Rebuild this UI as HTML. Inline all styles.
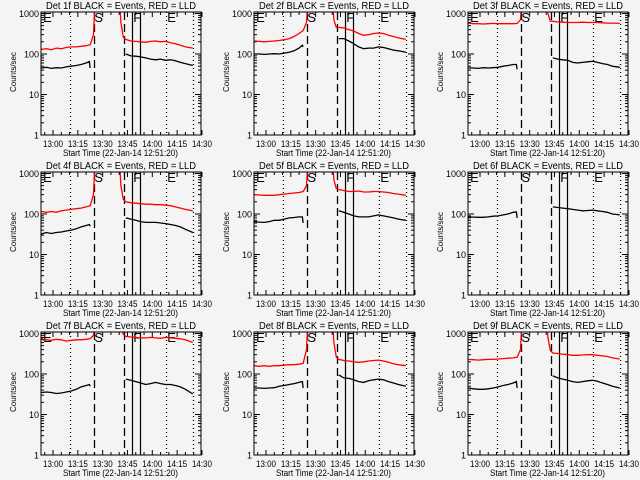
<!DOCTYPE html>
<html><head><meta charset="utf-8"><style>
html,body{margin:0;padding:0;background:#f4f4f4;}
svg{display:block;font-family:"Liberation Sans",sans-serif;}
</style></head><body>
<svg id="c" width="640" height="480" viewBox="0 0 640 480">
<rect x="0" y="0" width="640" height="480" fill="#f4f4f4"/>
</svg>
<script>
// shared time samples (minutes from 13:00)
const tPre = [-7,-4,-1,2,5,8,11,14,17,20,22,22.4];
const tPost = [44,47,50,53,56,59,62,65,68,71,74,77,80,84.5];
const tRedPre = [-7,-4,-1,2,5,8,11,14,17,20,22.5,24.5,25.5];
const tRedFall = [40,41,42.5];
const tickLabels = ["13:00","13:15","13:30","13:45","14:00","14:15","14:30"];
const tickTimes = [0,15,30,45,60,75,90];
const yTicks = [1,10,100,1000];
const eventTimes = [10.3,24.5,42.9,47.7,52.6,68.3,84.6];
const eventStyles = ["dot","dash","dash","solid","solid","dot","dot"];
const markerLetters = ["E","S","F","E"];
const markerTimes = [-6,25,48.5,69];
const detNames = ["1f","2f","3f","4f","5f","6f","7f","8f","9f"];

const blackPre = [
 [45,47,44,46,45,48,50,52,55,60,65,45],
 [100,100,98,100,102,100,105,110,120,140,165,150],
 [45,45,44,46,45,46,47,50,52,55,55,42],
 [32,35,33,35,36,38,40,43,48,52,55,50],
 [65,63,62,65,70,70,75,80,82,85,85,60],
 [85,84,83,83,85,88,90,95,100,110,112,80],
 [35,36,35,33,34,36,38,42,48,52,55,50],
 [45,45,44,45,46,50,52,55,58,62,65,45],
 [45,43,42,42,43,45,48,52,55,60,65,45]
];
const blackPost = [
 [100,90,88,85,80,75,72,75,70,72,68,62,58,52],
 [240,240,210,180,150,135,140,140,150,145,135,125,120,110],
 [80,75,72,70,62,60,62,64,66,62,58,55,50,47],
 [80,75,70,65,62,62,62,60,58,55,52,48,42,35],
 [120,110,100,90,85,85,85,90,95,90,85,80,75,70],
 [150,145,140,135,130,125,120,122,125,120,115,110,100,95],
 [75,70,65,60,55,58,62,58,55,55,52,48,42,32],
 [95,80,78,72,65,62,68,72,75,72,65,60,55,50],
 [90,80,75,70,65,62,65,68,70,66,60,55,50,45]
];
const redPre = [
 [130,135,128,140,135,145,150,150,155,160,170,300,3000],
 [210,205,200,205,210,215,225,240,270,320,380,600,3000],
 [580,560,560,550,560,570,560,560,560,560,570,700,3000],
 [115,110,115,110,120,125,130,135,140,150,160,300,3000],
 [300,295,290,290,290,300,310,320,330,340,360,500,3000],
 null,
 [750,700,680,720,700,650,680,700,700,720,750,900,3000],
 [160,155,160,155,160,160,165,170,170,175,185,400,3000],
 [230,225,220,225,230,230,235,240,245,250,260,400,3000]
];
const redFall = [
 [3000,600,260],[3000,700,450],[3000,1000,650],[3000,500,230],[3000,700,420],
 null,[3000,1500,950],[3000,600,260],[3000,800,380]
];
const redPost = [
 [230,210,205,200,195,205,210,200,205,190,180,165,150,140],
 [450,440,400,370,320,290,300,320,330,320,290,270,250,230],
 [640,620,610,600,600,600,610,600,600,600,590,580,580,570],
 [200,190,185,180,175,175,170,170,165,160,150,140,130,120],
 [400,380,360,360,370,350,350,360,360,350,340,320,310,290],
 null,
 [850,820,800,780,780,800,780,760,800,780,760,740,700,600],
 [230,215,210,200,195,200,210,215,220,210,195,180,170,160],
 [330,320,310,300,290,290,295,300,300,290,280,270,250,235]
];

const NS="http://www.w3.org/2000/svg";
const svg=document.getElementById('c');
function mk(tag,attrs,parent){const e=document.createElementNS(NS,tag);for(const k in attrs)e.setAttribute(k,attrs[k]);(parent||svg).appendChild(e);return e;}
const colLeft=[41,254,468], rowTop=[12,172,332], W=160, H=123;

for(let p=0;p<9;p++){
  const L=colLeft[p%3], T=rowTop[Math.floor(p/3)], B=T+H, R=L+W;
  const xOf=t=>L+12+t*1.655;
  const yOf=v=>B-Math.log10(v)*40.5;
  const g=mk('g',{});
  
  
  const cp=mk('clipPath',{id:'cp'+p},g);
  mk('rect',{x:L,y:T,width:W,height:H},cp);
  const ti=mk('text',{x:L+5,y:T-3,'font-size':'10',textLength:'150',lengthAdjust:'spacingAndGlyphs'},g);
  ti.textContent='Det '+detNames[p]+' BLACK = Events, RED = LLD';
  
  
  const yl=mk('text',{x:-20,y:0,'font-size':'8',textLength:'40',lengthAdjust:'spacingAndGlyphs',transform:'translate('+(L-25)+','+(T+60)+') rotate(-90)'},g);
  yl.textContent='Counts/sec';
  
  
  const xl=mk('text',{x:L+22,y:B+21,'font-size':'9.5',textLength:'115',lengthAdjust:'spacingAndGlyphs'},g);
  xl.textContent='Start Time (22-Jan-14 12:51:20)';
  
  
  yTicks.forEach(v=>{
    const y=yOf(v);
    mk('line',{x1:L,x2:L+6,y1:y,y2:y,stroke:'#000'},g);
    mk('line',{x1:R,x2:R-6,y1:y,y2:y,stroke:'#000'},g);
    const tl=mk('text',{x:L-2,y:y+3.5,'text-anchor':'end','font-size':'9'},g);
    tl.textContent=String(v);
    
    
    if(v<1000)for(let m=2;m<10;m++){const ym=yOf(v*m);
      mk('line',{x1:L,x2:L+3,y1:ym,y2:ym,stroke:'#000'},g);
      mk('line',{x1:R,x2:R-3,y1:ym,y2:ym,stroke:'#000'},g);}
  });
  tickTimes.forEach((t,i)=>{
    const x=xOf(t);
    mk('line',{x1:x,x2:x,y1:B,y2:B-5,stroke:'#000'},g);
    mk('line',{x1:x,x2:x,y1:T,y2:T+5,stroke:'#000'},g);
    const tl=mk('text',{x:x-10,y:B+12,'font-size':'9',textLength:'20',lengthAdjust:'spacingAndGlyphs'},g);
    tl.textContent=tickLabels[i];
    
    
  });
  for(let t=-5;t<=90;t+=5){if(t%15===0)continue;const x=xOf(t);if(x<L||x>R)continue;
    mk('line',{x1:x,x2:x,y1:B,y2:B-3,stroke:'#000'},g);
    mk('line',{x1:x,x2:x,y1:T,y2:T+3,stroke:'#000'},g);}
  eventTimes.forEach((t,i)=>{
    const x=Math.round(xOf(t))+0.5;
    const st=eventStyles[i];
    const ln=mk('line',{x1:x,x2:x,y1:T,y2:B,stroke:'#000','stroke-width':st==='solid'?1.2:1.3},g);
    if(st==='dot')ln.setAttribute('stroke-dasharray','1 3');
    if(st==='dash')ln.setAttribute('stroke-dasharray','8 4');
    
    
  });
  markerLetters.forEach((s,i)=>{
    const tx=mk('text',{x:xOf(markerTimes[i]),y:T+10,'font-size':'13'},g);
    tx.textContent=s;
    
    
  });
  const pl=(ts,vs,col,name)=>{
    const pts=ts.map((t,i)=>xOf(t).toFixed(1)+','+yOf(vs[i]).toFixed(1)).join(' ');
    const e=mk('polyline',{points:pts,fill:'none',stroke:col,'stroke-width':'1.3','clip-path':'url(#cp'+p+')'},g);
    
    
  };
  if(redPre[p]){
    pl(tRedPre,redPre[p],'#ff0000','lld-series-pre');
    pl(tRedFall.concat(tPost),redFall[p].concat(redPost[p]),'#ff0000','lld-series-post');
  }
  pl(tPre,blackPre[p],'#000','events-series-pre');
  pl(tPost,blackPost[p],'#000','events-series-post');
  const box=mk('rect',{x:L,y:T,width:W,height:H,fill:'none',stroke:'#000','stroke-width':'1'},g);
  
  
}
</script>
</body></html>
